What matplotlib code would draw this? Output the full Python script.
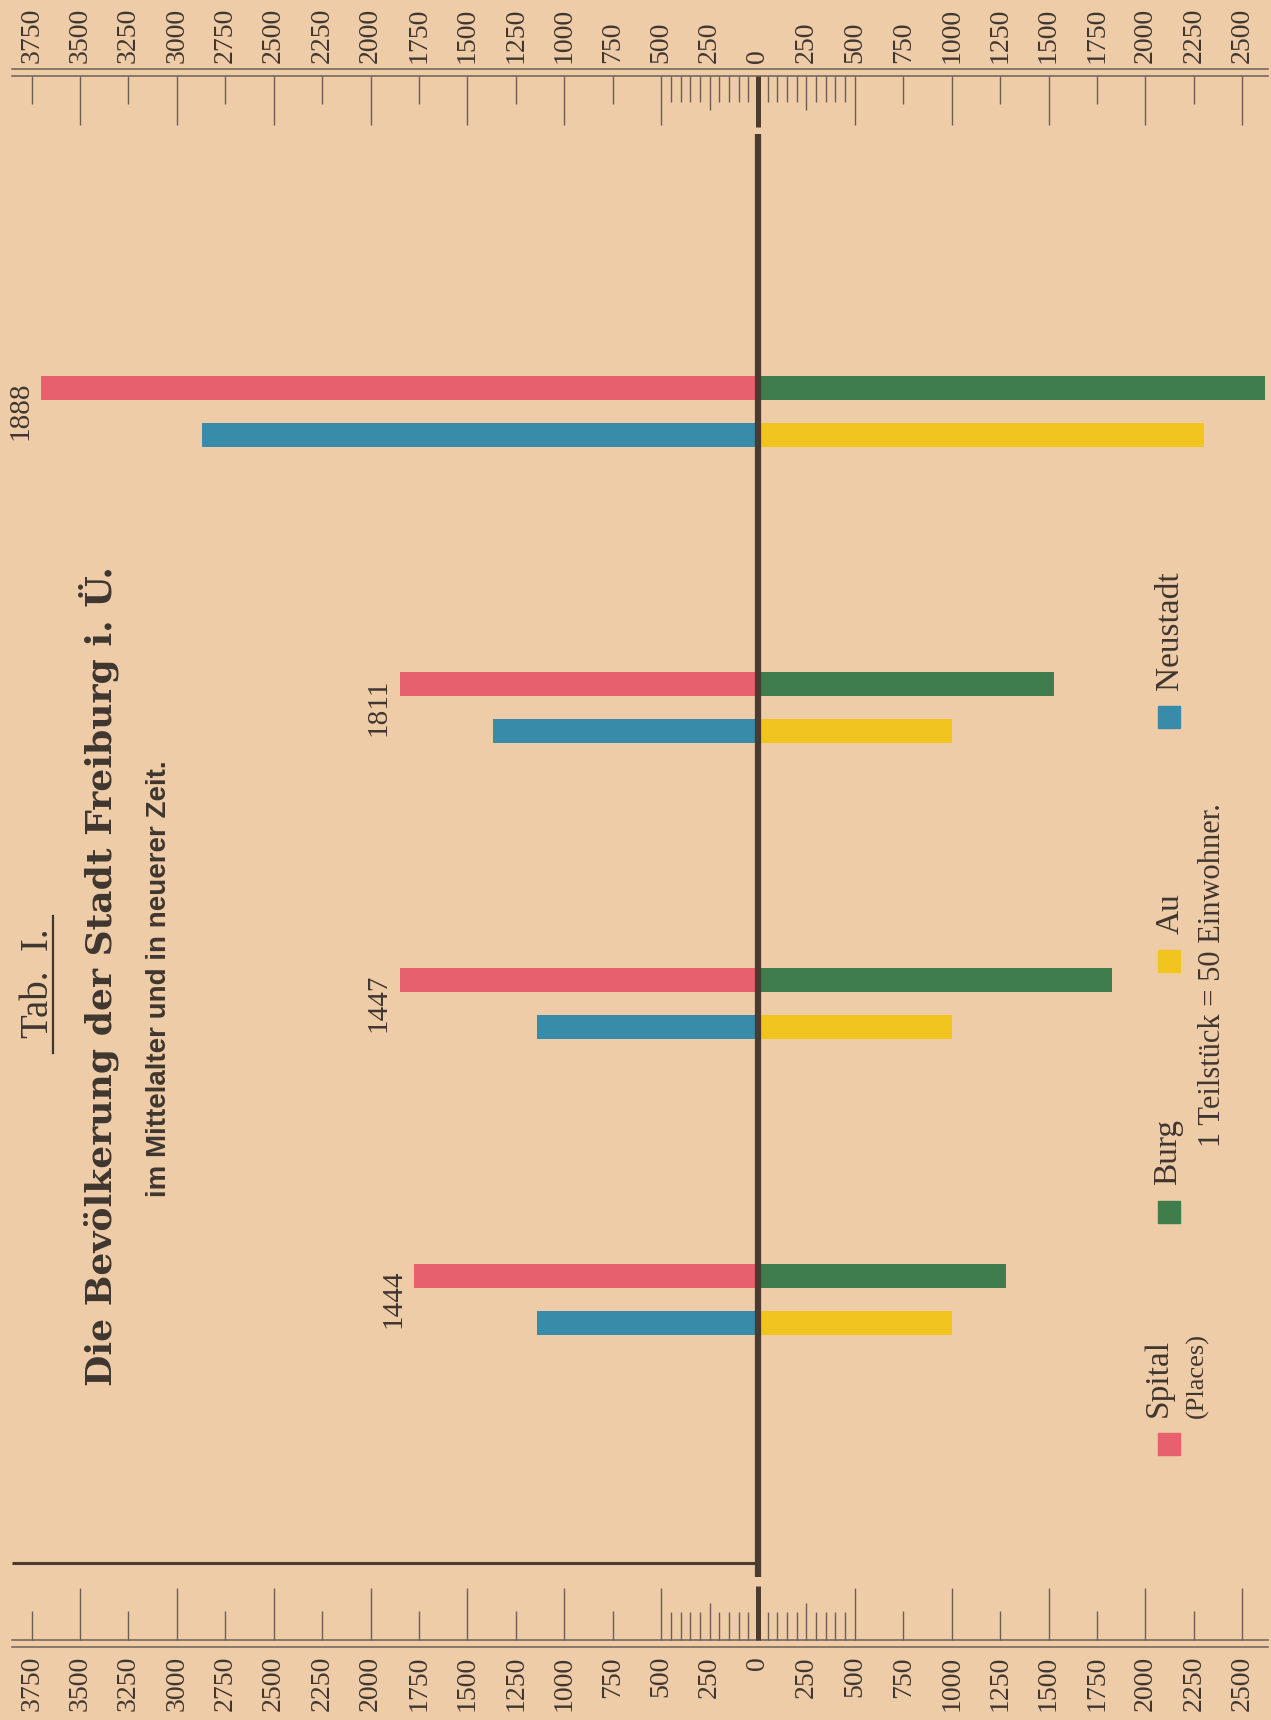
import matplotlib
matplotlib.use("Agg")
import matplotlib.pyplot as plt
import numpy as np
from matplotlib.patches import Rectangle

# Bevoelkerung der Stadt Freiburg i. Ue. (Einwohner)
years = ["1888", "1811", "1447", "1444"]
spital = [3700, 1850, 1850, 1775]
neustadt = [2870, 1370, 1140, 1140]
burg = [2615, 1530, 1830, 1280]
au = [2300, 1000, 1000, 1000]

legend_names = ["Spital", "Burg", "Au", "Neustadt"]

PAPER = "#eecca7"
RED = "#e6606d"
BLUE = "#388ba9"
GREEN = "#3f7d4c"
YELLOW = "#f2c420"
INK = "#3f3630"
RULE = "#6e6058"

W, H = 1271, 1720
X0 = 758        # pixel column of the zero line
PPU = 0.1937    # pixels per inhabitant

fig = plt.figure(figsize=(W / 100, H / 100), dpi=100)
fig.patch.set_facecolor(PAPER)
ax = fig.add_axes([0, 0, 1, 1])
ax.set_facecolor(PAPER)
ax.set_xlim(-X0 / PPU, (W - X0) / PPU)
ax.set_ylim(H, 0)
ax.axis("off")

ov = fig.add_axes([0, 0, 1, 1])
ov.set_xlim(0, W)
ov.set_ylim(H, 0)
ov.axis("off")
ov.patch.set_alpha(0)

# bars
ys = 411 + 296 * np.arange(len(years))
off, bh = 23.5, 24
ax.barh(ys - off, -np.array(spital), height=bh, color=RED)
ax.barh(ys + off, -np.array(neustadt), height=bh, color=BLUE)
ax.barh(ys - off, burg, height=bh, color=GREEN)
ax.barh(ys + off, au, height=bh, color=YELLOW)

# zero line
ax.vlines(0, 134, 1577, color="#4a3a30", lw=4.5)
ax.hlines(1563, -746 / PPU, 0, color="#4a3a30", lw=2.2)

for y, yr, s in zip(ys, years, spital):
    ax.text(-s - 8 / PPU, y, yr, rotation=90, ha="right", va="center",
            fontsize=21, family="Liberation Serif", color=INK)

# scales top and bottom
major = np.arange(-3750, 2501, 250)
minor = np.array([v for v in np.arange(-500, 501, 50) if v % 250 != 0])

for yline in (69, 76, 1640, 1647):
    ax.axhline(yline, xmin=12 / W, xmax=1268 / W, color=RULE, lw=1.1)

def tick_end(v, top):
    if v == 0:
        return 127 if top else 1586
    if v % 500 == 0:
        return 125 if top else 1588
    if abs(v) == 250:
        return 110 if top else 1603
    return 104 if top else 1611

for v in major:
    lw = 3.6 if v == 0 else 1.0
    c = "#4a3a30" if v == 0 else RULE
    ax.vlines(v, 76, tick_end(v, True), color=c, lw=lw)
    ax.vlines(v, tick_end(v, False), 1640, color=c, lw=lw)
    ax.text(v, 63, str(abs(v)), rotation=90, ha="center", va="bottom",
            fontsize=20, family="Liberation Serif", color=INK)
    ax.text(v, 1656, str(abs(v)), rotation=90, ha="center", va="top",
            fontsize=20, family="Liberation Serif", color=INK)
ax.vlines(minor, 76, 102, color=RULE, lw=1.0)
ax.vlines(minor, 1612, 1640, color=RULE, lw=1.0)

# titles
ov.text(38, 983, "Tab.  I.", rotation=90, ha="center", va="center",
        fontsize=28, family="Liberation Serif", color=INK)
ov.plot([53, 53], [916, 1053], color=INK, lw=1.6)
ov.text(99, 976, "Die Bevölkerung der Stadt Freiburg i. Ü.", rotation=90,
        ha="center", va="center", fontsize=26, family="DejaVu Serif",
        fontweight="bold", color=INK)
ov.text(159, 979, "im Mittelalter und in neuerer Zeit.", rotation=90,
        ha="center", va="center", fontsize=20, family="Liberation Sans",
        fontweight="bold", color=INK)

# legend
leg_colors = [RED, GREEN, YELLOW, BLUE]
leg_y = [1444, 1212, 961, 717]
leg_x = [1158, 1168, 1170, 1170]
for name, c, y, x in zip(legend_names, leg_colors, leg_y, leg_x):
    ov.add_patch(Rectangle((1158, y - 11), 22, 22, color=c))
    ov.text(x, y - 27, name, rotation=90, ha="center", va="bottom",
            fontsize=24, family="Liberation Serif", color=INK)
ov.text(1197, 1418, "(Places)", rotation=90, ha="center", va="bottom",
        fontsize=19, family="Liberation Serif", color=INK)
ov.text(1212, 975, "1 Teilstück = 50 Einwohner.", rotation=90, ha="center",
        va="center", fontsize=22, family="Liberation Serif", color=INK)

fig.savefig("out.png", dpi=100, facecolor=PAPER)
